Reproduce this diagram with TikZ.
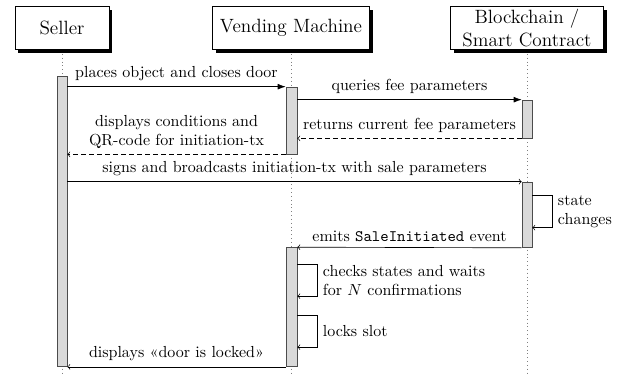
\documentclass[tikz,border=0pt]{standalone}
\usepackage{amsmath}
\usetikzlibrary{calc,fit,shadows,backgrounds,positioning,arrows.meta}

\begin{document}
\begin{tikzpicture}[
        x=0.625pt, y=-0.625pt,
        >=to,
        every node/.style={align=center},
        actor/.style={draw, fill=white, font=\large, minimum height=27pt, inner ysep=1.5pt,
            drop shadow={fill=black, opacity=1, shadow xshift=2pt, shadow yshift=-2pt}},
        lifeline/.style={draw=gray, dotted},
        bar/.style={draw=black!70, fill=gray!30, inner sep=0pt},
        call/.style={->},
        reply/.style={->, densely dashed},
        sync/.style={-{Latex[length=5pt,width=3.6pt]}}
    ]

    \useasboundingbox (0,0) rectangle (627,376);

    % draw the participants
    \foreach \name/\x/\w/\txt in {seller/62/94/Seller, vm/291/157/Vending Machine,
                                  bc/527/153/{Blockchain /\\ Smart Contract}}
        \node[actor, anchor=south, minimum width=0.625*\w pt] (\name) at (\x,50) {\txt};

    \begin{scope}[on background layer]
        \foreach \name in {seller, vm, bc}
            \draw[lifeline] (\name) -- (\name |- 0,376);
    \end{scope}

    % activation bars
    \node[bar, fit={(57,76)(67,366)}] (sbar) {};
    \node[bar, fit={(286,87)(297,154)}] (vbar1) {};
    \node[bar, fit={(522,100)(532,138)}] (bbar1) {};
    \node[bar, fit={(522,182)(532,247.5)}] (bbar2) {};
    \node[bar, fit={(286,247.5)(297,366.5)}] (vbar2) {};

    % messages
    \draw[sync] (sbar.east |- vbar1.north) -- node[above] {places object and closes door} (vbar1.north west);
    \draw[sync] (vbar1.east |- bbar1.north) -- node[above] {queries fee parameters} (bbar1.north west);
    \draw[reply] (bbar1.south west) -- node[above] {returns current fee parameters} (vbar1.east |- bbar1.south);
    \draw[reply] (vbar1.south west) -- node[above] {displays conditions and\\QR-code for initiation-tx} (sbar.east |- vbar1.south);
    \draw[call] (sbar.east |- bbar2.north) -- node[above] {signs and broadcasts initiation-tx with sale parameters} (bbar2.north west);
    \draw[call] ($(bbar2.north east)+(0,14)$) -- ++(20,0) |- node[pos=0.25, right, align=left] {state\\changes} ++(-20,32);
    \draw[call] (bbar2.south west) -- node[above] {emits \texttt{SaleInitiated} event} (vbar2.north east);
    \draw[call] ($(vbar2.north east)+(0,17)$) -- ++(20,0) |- node[pos=0.25, right, align=left] {checks states and waits\\for $N$ confirmations} ++(-20,32);
    \draw[call] ($(vbar2.north east)+(0,68)$) -- ++(20,0) |- node[pos=0.25, right, align=left] {locks slot} ++(-20,32);
    \draw[call] (vbar2.south west) -- node[above] {displays «door is locked»} (sbar.east |- vbar2.south);
\end{tikzpicture}
\end{document}
